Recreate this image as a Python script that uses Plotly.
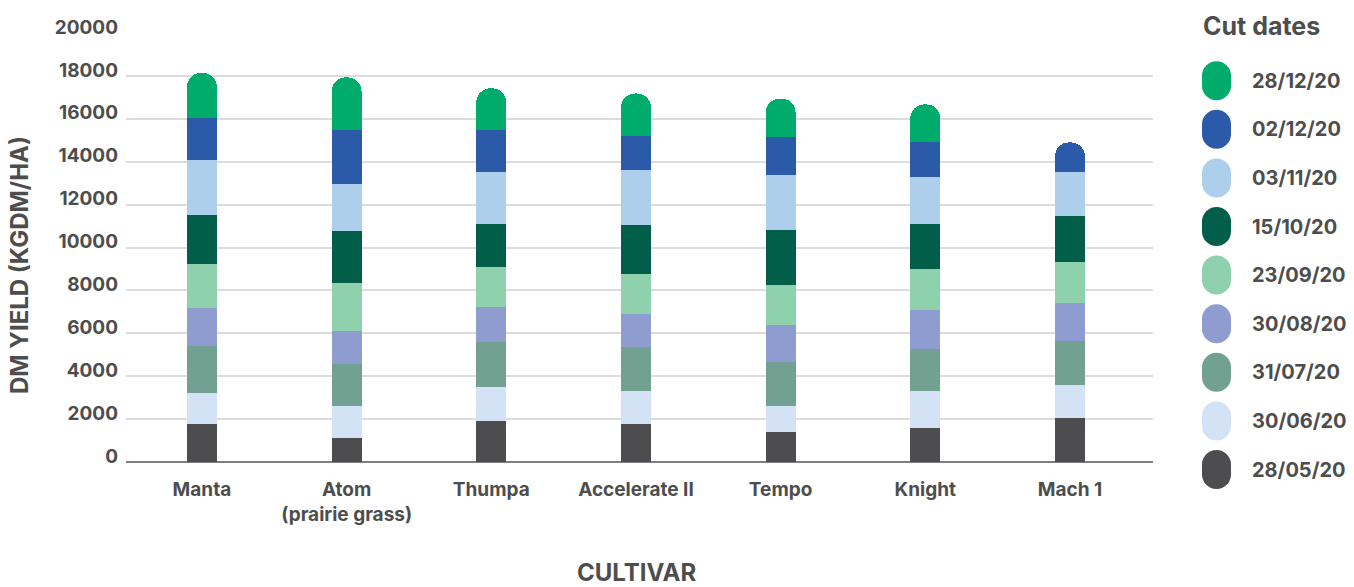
import plotly.graph_objects as go

cultivars = ["Manta", "Atom<br>(prairie grass)", "Thumpa", "Accelerate II", "Tempo", "Knight", "Mach 1"]

# cut dates, bottom of stack first
cut_dates = ["28/05/20", "30/06/20", "31/07/20", "30/08/20", "23/09/20",
             "15/10/20", "03/11/20", "02/12/20", "28/12/20"]
colors = ["#4d4d4f", "#d3e3f5", "#72a192", "#8e9ccf", "#8fd0ad",
          "#005e49", "#aecfec", "#2b5ba8", "#00ac6b"]

cut_28_05 = [1780, 1130, 1920, 1780, 1410, 1600, 2060]
cut_30_06 = [1440, 1490, 1580, 1540, 1210, 1720, 1540]
cut_31_07 = [2190, 1950, 2100, 2040, 2050, 1950, 2040]
cut_30_08 = [1770, 1540, 1620, 1540, 1720, 1810, 1770]
cut_23_09 = [2040, 2230, 1860, 1860, 1860, 1910, 1910]
cut_15_10 = [2280, 2420, 2000, 2280, 2550, 2090, 2140]
cut_03_11 = [2560, 2180, 2420, 2560, 2560, 2190, 2040]
cut_02_12 = [2000, 2560, 2000, 1620, 1770, 1630, 1400]
cut_28_12 = [2080, 2430, 1920, 1960, 1810, 1770, None]

series = [cut_28_05, cut_30_06, cut_31_07, cut_30_08, cut_23_09,
          cut_15_10, cut_03_11, cut_02_12, cut_28_12]

y_ticks = [0, 2000, 4000, 6000, 8000, 10000, 12000, 14000, 16000, 18000, 20000]
y_tick_text = [str(v) for v in y_ticks]

TXT = "#4d4d4d"
FONT = "Inter"

fig = go.Figure()
for name, vals, col in zip(cut_dates, series, colors):
    fig.add_trace(go.Bar(
        x=list(range(len(cultivars))), y=vals, name=name,
        marker=dict(color=col, line=dict(width=0)),
        width=0.207, showlegend=False,
    ))

W, H = 1354, 587
L, R, T, B = 126, 201, 33, 125
pw, ph = W - L - R, H - T - B

def px_to_paper(x, y):
    return (x - L) / pw, (H - B - y) / ph

shapes = []
annotations = []
# custom legend (top entry = last cut)
leg_top = 80.7
leg_step = 48.6
for i, (name, col) in enumerate(zip(reversed(cut_dates), reversed(colors))):
    cy = leg_top + i * leg_step
    ax, ay = px_to_paper(1216.5, cy)
    common = dict(xref="paper", yref="paper", xsizemode="pixel", ysizemode="pixel",
                  xanchor=ax, yanchor=ay, fillcolor=col, line=dict(width=0), layer="above")
    shapes.append(dict(type="circle", x0=-14.5, x1=14.5, y0=-19.5, y1=9.5, **common))
    shapes.append(dict(type="circle", x0=-14.5, x1=14.5, y0=-9.5, y1=19.5, **common))
    shapes.append(dict(type="rect", x0=-14.5, x1=14.5, y0=-5, y1=5, **common))
    tx, ty = px_to_paper(1250, cy)
    annotations.append(dict(text=name, x=tx, y=ty, xref="paper", yref="paper",
                            xanchor="left", yanchor="middle", showarrow=False,
                            font=dict(family=FONT, size=20, color=TXT, weight=700)))

tx, ty = px_to_paper(1201, 26)
annotations.append(dict(text="Cut dates", x=tx, y=ty, xref="paper", yref="paper",
                        xanchor="left", yanchor="middle", showarrow=False,
                        font=dict(family=FONT, size=25, color=TXT, weight=700)))
tx, ty = px_to_paper(636, 572)
annotations.append(dict(text="CULTIVAR", x=tx, y=ty, xref="paper", yref="paper",
                        xanchor="center", yanchor="middle", showarrow=False,
                        font=dict(family=FONT, size=24, color=TXT, weight=700)))
tx, ty = px_to_paper(19, 265)
annotations.append(dict(text="DM YIELD (KGDM/HA)", x=tx, y=ty, xref="paper", yref="paper",
                        xanchor="center", yanchor="middle", showarrow=False, textangle=-90,
                        font=dict(family=FONT, size=24, color=TXT, weight=700)))

fig.update_layout(
    width=W, height=H,
    margin=dict(l=L, r=R, t=T, b=B, pad=0),
    barmode="stack",
    barcornerradius="50%",
    plot_bgcolor="white", paper_bgcolor="white",
    font=dict(family=FONT, color=TXT, weight=700),
    showlegend=False,
    shapes=shapes,
    annotations=annotations,
    xaxis=dict(
        tickmode="array", tickvals=list(range(len(cultivars))), ticktext=cultivars,
        range=[-0.525, 6.574], showgrid=False, showline=False, zeroline=False,
        tickfont=dict(family=FONT, size=19, color=TXT, weight=700),
        ticks="", ticklabelstandoff=14, fixedrange=True,
    ),
    yaxis=dict(
        range=[0, 20000], tickmode="array", tickvals=y_ticks, ticktext=y_tick_text,
        showgrid=True, gridcolor="#dcdcdc", gridwidth=1.5,
        zeroline=True, zerolinecolor="#7f7f7f", zerolinewidth=1.5,
        showline=False, ticks="",
        ticklabelshift=-6,
        tickfont=dict(family=FONT, size=19, color=TXT, weight=700),
        ticklabelstandoff=7, fixedrange=True,
    ),
)

fig.write_html("out.html")
